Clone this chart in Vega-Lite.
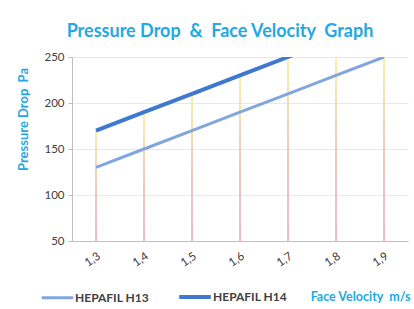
{
  "$schema": "https://vega.github.io/schema/vega-lite/v6.json",
  "width": 336,
  "height": 184,
  "autosize": "none",
  "padding": {"left": 72, "top": 57, "right": 6, "bottom": 68},
  "background": "white",
  "config": {"font": "Lato", "view": {"stroke": null}},
  "title": {
    "text": "Pressure Drop \u00a0& \u00a0Face Velocity \u00a0Graph",
    "fontSize": 18,
    "fontWeight": "bold",
    "color": "#22A8E4",
    "anchor": "middle",
    "dx": -20,
    "offset": 10
  },
  "datasets": {
    "pd": [
      {"v": "1,3", "series": "HEPAFIL H13", "pd": 130},
      {"v": "1,4", "series": "HEPAFIL H13", "pd": 150},
      {"v": "1,5", "series": "HEPAFIL H13", "pd": 170},
      {"v": "1,6", "series": "HEPAFIL H13", "pd": 190},
      {"v": "1,7", "series": "HEPAFIL H13", "pd": 210},
      {"v": "1,8", "series": "HEPAFIL H13", "pd": 230},
      {"v": "1,9", "series": "HEPAFIL H13", "pd": 250},
      {"v": "1,3", "series": "HEPAFIL H14", "pd": 170},
      {"v": "1,4", "series": "HEPAFIL H14", "pd": 190},
      {"v": "1,5", "series": "HEPAFIL H14", "pd": 210},
      {"v": "1,6", "series": "HEPAFIL H14", "pd": 230},
      {"v": "1,7", "series": "HEPAFIL H14", "pd": 250},
      {"v": "1,8", "series": "HEPAFIL H14", "pd": 270},
      {"v": "1,9", "series": "HEPAFIL H14", "pd": 290}
    ],
    "drops": [
      {"v": "1,3", "top": 170},
      {"v": "1,4", "top": 190},
      {"v": "1,5", "top": 210},
      {"v": "1,6", "top": 230},
      {"v": "1,7", "top": 250},
      {"v": "1,8", "top": 250},
      {"v": "1,9", "top": 250}
    ]
  },
  "layer": [
    {
      "data": {"name": "drops"},
      "mark": {
        "type": "bar",
        "width": 1.5,
        "color": {
          "gradient": "linear",
          "x1": 0, "y1": 1, "x2": 0, "y2": 0,
          "stops": [
            {"offset": 0, "color": "#F2A0B8"},
            {"offset": 0.45, "color": "#F5B0A8"},
            {"offset": 1, "color": "#F4EC8C"}
          ]
        }
      },
      "encoding": {
        "x": {
          "field": "v",
          "type": "ordinal",
          "sort": ["1,3", "1,4", "1,5", "1,6", "1,7", "1,8", "1,9"],
          "scale": {"type": "band", "paddingInner": 0, "paddingOuter": 0},
          "axis": {
            "labelAngle": -35,
            "labelFontSize": 11.5,
            "labelColor": "#404040",
            "labelPadding": 9,
            "domainColor": "#bfbfbf",
            "ticks": false,
            "grid": false,
            "title": "Face Velocity \u00a0m/s",
            "titleColor": "#22A8E4",
            "titleFontSize": 12.5,
            "titleFontWeight": "bold",
            "titleAnchor": "end",
            "titleAlign": "right",
            "titleX": 338,
            "titleY": 55,
            "titleBaseline": "middle"
          }
        },
        "y": {
          "field": "top",
          "type": "quantitative",
          "scale": {"domain": [50, 250], "nice": false, "zero": false},
          "axis": {
            "values": [50, 100, 150, 200, 250],
            "labelFontSize": 11.5,
            "labelColor": "#404040",
            "labelPadding": 4,
            "domainColor": "#bfbfbf",
            "tickColor": "#bfbfbf",
            "tickSize": 4,
            "gridColor": "#e8e8e8",
            "title": "Pressure Drop \u00a0Pa",
            "titleColor": "#22A8E4",
            "titleFontSize": 13,
            "titleFontWeight": "bold",
            "titleAngle": -90,
            "titleX": -49,
            "titleY": 62,
            "titleAlign": "center",
            "titleBaseline": "middle"
          }
        },
        "y2": {"datum": 50}
      }
    },
    {
      "data": {"name": "pd"},
      "mark": {"type": "line", "clip": true},
      "encoding": {
        "x": {"field": "v", "type": "ordinal", "sort": ["1,3", "1,4", "1,5", "1,6", "1,7", "1,8", "1,9"]},
        "y": {"field": "pd", "type": "quantitative", "scale": {"domain": [50, 250], "nice": false, "zero": false}},
        "color": {
          "field": "series",
          "type": "nominal",
          "scale": {"domain": ["HEPAFIL H13", "HEPAFIL H14"], "range": ["#80A6DF", "#3F78CF"]},
          "legend": {
            "title": null,
            "orient": "none",
            "direction": "horizontal",
            "legendX": -32,
            "legendY": 222,
            "symbolType": "stroke",
            "symbolSize": 1000,
            "symbolStrokeWidth": 3.5,
            "labelFontSize": 12,
            "labelFontWeight": "bold",
            "labelColor": "#404040",
            "labelOffset": 0,
            "columnPadding": 22
          }
        },
        "strokeWidth": {
          "field": "series",
          "type": "nominal",
          "scale": {"domain": ["HEPAFIL H13", "HEPAFIL H14"], "range": [3, 4]},
          "legend": null
        }
      }
    }
  ]
}
